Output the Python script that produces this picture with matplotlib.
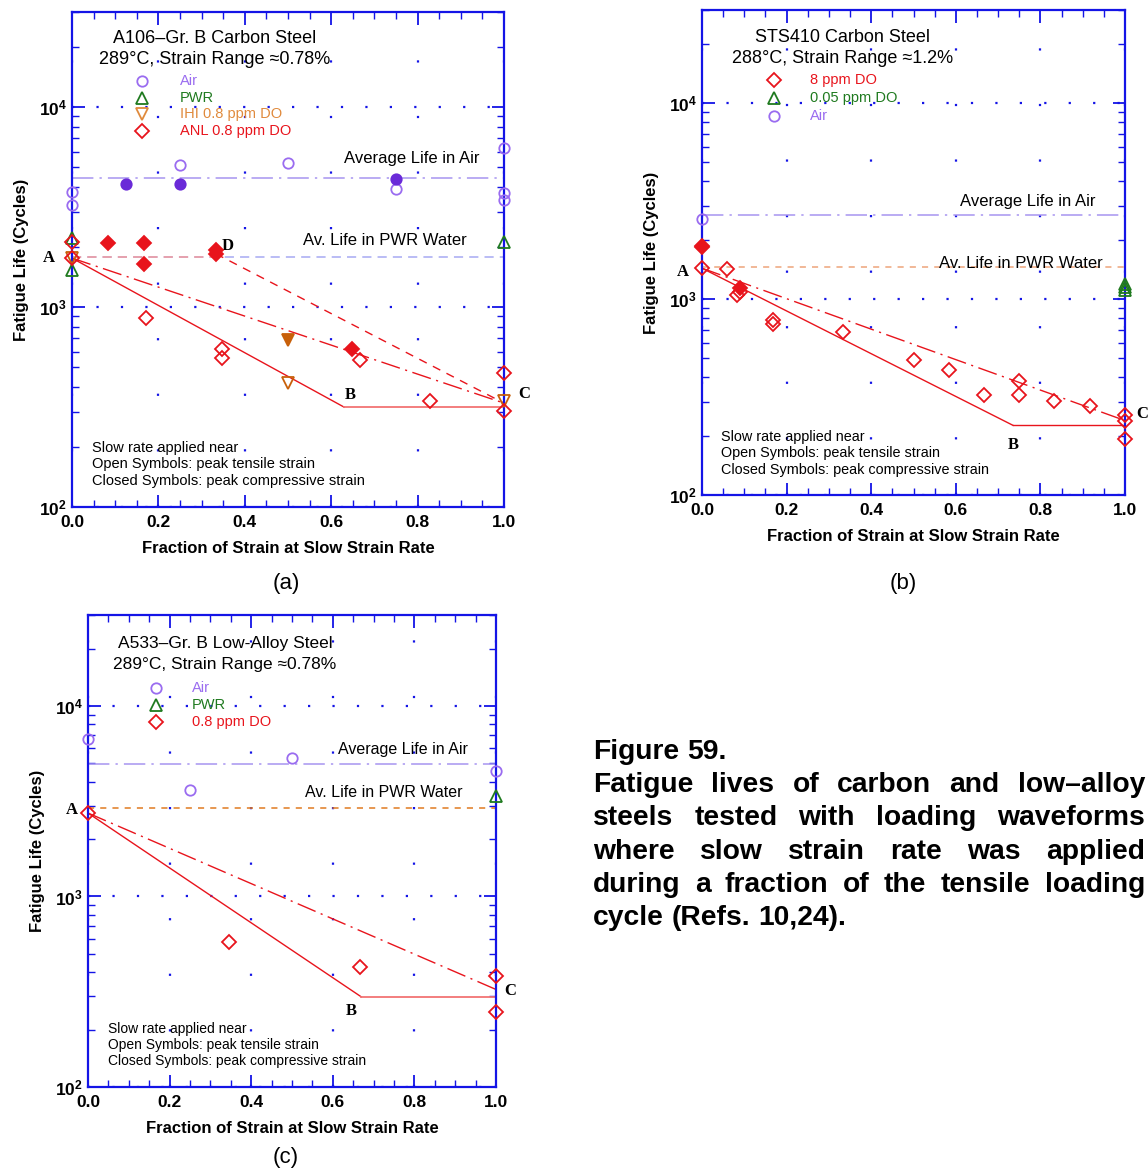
import numpy as np
import matplotlib
matplotlib.use("Agg")
import matplotlib.pyplot as plt
from matplotlib.ticker import MultipleLocator, LogLocator, FixedLocator, FixedFormatter, NullFormatter, FuncFormatter
import matplotlib.transforms as mtransforms

plt.rcParams['font.family'] = ['Liberation Sans', 'DejaVu Sans']
plt.rcParams['mathtext.fontset'] = 'custom'
plt.rcParams['mathtext.rm'] = 'Liberation Sans'
plt.rcParams['mathtext.bf'] = 'Liberation Sans:bold'

# ---- panel (a): A106-Gr. B carbon steel ----
a_air_open_x = [0, 0, 0.25, 0.5, 0.75, 1.0, 1.0, 1.0]
a_air_open_y = [3760, 3240, 5130, 5250, 3890, 6230, 3720, 3430]
a_air_closed_x = [0.125, 0.25, 0.75]
a_air_closed_y = [4120, 4120, 4370]
a_pwr_x = [0, 0, 1.0]
a_pwr_y = [2210, 1530, 2110]
a_ihi_open_x = [0, 0.5, 1.0]
a_ihi_open_y = [1760, 417, 339]
a_ihi_closed_x = [0.5]
a_ihi_closed_y = [684]
a_anl_open_x = [0, 0, 0.171, 0.347, 0.347, 0.667, 0.829, 1.0, 1.0]
a_anl_open_y = [2110, 1760, 881, 617, 556, 543, 339, 468, 302]
a_anl_closed_x = [0.083, 0.167, 0.167, 0.333, 0.333, 0.648]
a_anl_closed_y = [2090, 2090, 1640, 1930, 1850, 617]
a_avg_air, a_avg_pwr = 4420, 1790
a_A, a_C = 1760, 331
a_B = (0.63, 316)
a_D = (0.333, 1850)

# ---- panel (b): STS410 carbon steel ----
b_do_open_x = [0, 0, 0.06, 0.083, 0.09, 0.167, 0.167, 0.333, 0.5, 0.583,
               0.667, 0.75, 0.75, 0.833, 0.917, 1.0, 1.0, 1.0]
b_do_open_y = [1850, 1440, 1420, 1047, 1085, 781, 745, 680, 489, 434,
               324, 380, 324, 302, 285, 256, 239, 193]
b_do_closed_x = [0, 0.09]
b_do_closed_y = [1860, 1140]
b_pwr_x = [1.0, 1.0, 1.0]
b_pwr_y = [1200, 1160, 1120]
b_air_x = [0]
b_air_y = [2560]
b_avg_air, b_avg_pwr = 2685, 1456
b_A, b_C = 1440, 240
b_B = (0.735, 227)

# ---- panel (c): A533-Gr. B low-alloy steel ----
c_air_x = [0, 0.25, 0.5, 1.0]
c_air_y = [6710, 3620, 5330, 4560]
c_pwr_x = [1.0]
c_pwr_y = [3370]
c_do_x = [0, 0.345, 0.667, 1.0, 1.0]
c_do_y = [2740, 577, 427, 383, 248]
c_avg_air, c_avg_pwr = 4970, 2920
c_A, c_C = 2740, 325
c_B = (0.67, 297)

BLUE = '#1414e6'
AIR = '#9a6cf0'
AIR_DARK = '#6a2ad8'
AIR_LINE = '#a794f0'
PWR = '#1f7a1f'
IHI = '#c8600a'
IHI_TXT = '#e08a3c'
RED = '#e8141c'
RED_LIGHT = '#f27474'

W, H = 1148, 1172
fig = plt.figure(figsize=(W / 100, H / 100), dpi=100)

ax_a = fig.add_axes([72 / W, 1 - 507 / H, 432 / W, 495 / H])
ax_b = fig.add_axes([702 / W, 1 - 495 / H, 423 / W, 485 / H])
ax_c = fig.add_axes([88 / W, 1 - 1087 / H, 408 / W, 472 / H])


def style_axes(ax):
    ax.set_yscale('log')
    ax.set_xlim(0, 1)
    ax.set_ylim(100, 30000)
    ax.xaxis.set_major_locator(MultipleLocator(0.2))
    ax.xaxis.set_minor_locator(MultipleLocator(0.05))
    ax.xaxis.set_major_formatter(FuncFormatter(lambda v, p: '%.1f' % v))
    ax.yaxis.set_major_locator(FixedLocator([100, 1000, 10000]))
    ax.yaxis.set_major_formatter(FixedFormatter([r'$\mathbf{10^{2}}$', r'$\mathbf{10^{3}}$', r'$\mathbf{10^{4}}$']))
    ax.yaxis.set_minor_locator(LogLocator(base=10, subs=np.arange(2, 10)))
    ax.yaxis.set_minor_formatter(NullFormatter())
    ax.tick_params(which='both', direction='in', top=True, right=True, color=BLUE, labelsize=12.5)
    ax.tick_params(which='major', length=9, width=1.3)
    ax.tick_params(which='minor', length=5, width=1.0)
    ax.tick_params(axis='x', pad=6)
    for lbl in ax.get_xticklabels():
        lbl.set_fontweight('bold')
    for s in ax.spines.values():
        s.set_color(BLUE)
        s.set_linewidth(1.6)
    ax.xaxis.grid(True, which='major', color=BLUE, ls=(0, (1, 24)), lw=1.6)
    ax.yaxis.grid(True, which='major', color=BLUE, ls=(0, (1, 10)), lw=1.6)
    ax.set_axisbelow(True)
    ax.set_xlabel('Fraction of Strain at Slow Strain Rate', fontsize=12, fontweight='bold', labelpad=8)
    ax.set_ylabel('Fatigue Life (Cycles)', fontsize=12, fontweight='bold', labelpad=7)


def pts(ax, x, y, marker, color, filled=False, ms=7.5, mew=1.3):
    ax.plot(x, y, ls='none', marker=marker, ms=ms, mew=mew, mec=color,
            mfc=color if filled else 'none', clip_on=False, zorder=5)


def legend_row(ax, xm, xt, y, marker, color, label, ms=7.5):
    ax.plot([xm], [y], ls='none', marker=marker, ms=ms, mew=1.3, mec=color,
            mfc='none', transform=ax.transAxes, clip_on=False)
    ax.text(xt, y, label, color=color, fontsize=10.5, va='center', transform=ax.transAxes)


def letter(ax, x, y, s, trans):
    ax.text(x, y, s, fontsize=12, fontweight='bold', family='Liberation Serif',
            ha='center', va='center', transform=trans)


dashdot = (0, (14, 4, 1.5, 4))
notes = ['Slow rate applied near', 'Open Symbols: peak tensile strain',
         'Closed Symbols: peak compressive strain']
DM = 7.3  # diamond marker size

# ---------- (a) ----------
ax = ax_a
style_axes(ax)
ax.axhline(a_avg_air, color=AIR_LINE, lw=1.1, ls=dashdot)
ax.axhline(a_avg_pwr, color='#a7aaf2', lw=1.1, ls=(0, (6, 4)))
ax.plot([0, a_D[0]], [a_avg_pwr, a_avg_pwr], color='#f39a9a', lw=1.1, ls=(0, (6, 4)))
ax.plot([0, a_B[0]], [a_A, a_B[1]], color=RED, lw=1)
ax.plot([a_B[0], 1], [a_B[1], a_B[1]], color=RED_LIGHT, lw=1.3)
ax.plot([0, 1], [a_A, a_C], color=RED, lw=1, ls=dashdot)
ax.plot([a_D[0], 1], [a_D[1], a_C], color=RED, lw=1, ls=(0, (6, 5)))
pts(ax, a_air_open_x, a_air_open_y, 'o', AIR)
pts(ax, a_air_closed_x, a_air_closed_y, 'o', AIR_DARK, filled=True)
pts(ax, a_pwr_x, a_pwr_y, '^', PWR, ms=8)
pts(ax, a_ihi_open_x, a_ihi_open_y, 'v', IHI, ms=8.5)
pts(ax, a_ihi_closed_x, a_ihi_closed_y, 'v', IHI, filled=True, ms=8.5)
pts(ax, a_anl_open_x, a_anl_open_y, 'D', RED, ms=DM)
pts(ax, a_anl_closed_x, a_anl_closed_y, 'D', RED, filled=True, ms=DM)
ax.text(0.33, 0.947, 'A106\u2013Gr. B Carbon Steel', fontsize=13, ha='center', va='center', transform=ax.transAxes)
ax.text(0.33, 0.905, '289\u00b0C, Strain Range \u22480.78%', fontsize=13, ha='center', va='center', transform=ax.transAxes)
legend_row(ax, 0.162, 0.25, 0.861, 'o', AIR, 'Air')
legend_row(ax, 0.162, 0.25, 0.826, '^', PWR, 'PWR', ms=8)
legend_row(ax, 0.162, 0.25, 0.794, 'v', IHI_TXT, 'IHI 0.8 ppm DO', ms=8)
legend_row(ax, 0.162, 0.25, 0.760, 'D', RED, 'ANL 0.8 ppm DO', ms=DM)
ax.text(0.787, 0.705, 'Average Life in Air', fontsize=12, ha='center', va='center', transform=ax.transAxes)
ax.text(0.725, 0.539, 'Av. Life in PWR Water', fontsize=12, ha='center', va='center', transform=ax.transAxes)
for i, s in enumerate(notes):
    ax.text(0.046, 0.119 - 0.033 * i, s, fontsize=10.5, va='center', transform=ax.transAxes)
bt = mtransforms.blended_transform_factory(ax.transAxes, ax.transData)
letter(ax, -0.053, a_A, 'A', bt)
letter(ax, 0.644, 363, 'B', ax.transData)
letter(ax, 1.046, 367, 'C', bt)
letter(ax, 0.361, 2018, 'D', ax.transData)

# ---------- (b) ----------
ax = ax_b
style_axes(ax)
ax.axhline(b_avg_air, color=AIR_LINE, lw=1.1, ls=dashdot)
ax.axhline(b_avg_pwr, color='#eea47a', lw=1.1, ls=(0, (4, 4)))
ax.plot([0, b_B[0]], [b_A, b_B[1]], color=RED, lw=1)
ax.plot([b_B[0], 1], [b_B[1], b_B[1]], color=RED, lw=1)
ax.plot([0, 1], [b_A, b_C], color=RED, lw=1, ls=dashdot)
pts(ax, b_air_x, b_air_y, 'o', AIR)
pts(ax, b_pwr_x, b_pwr_y, '^', PWR, ms=8)
pts(ax, b_do_open_x, b_do_open_y, 'D', RED, ms=DM)
pts(ax, b_do_closed_x, b_do_closed_y, 'D', RED, filled=True, ms=DM)
ax.text(0.333, 0.944, 'STS410 Carbon Steel', fontsize=13, ha='center', va='center', transform=ax.transAxes)
ax.text(0.333, 0.901, '288\u00b0C, Strain Range \u22481.2%', fontsize=13, ha='center', va='center', transform=ax.transAxes)
legend_row(ax, 0.17, 0.255, 0.856, 'D', RED, '8 ppm DO', ms=DM)
legend_row(ax, 0.17, 0.255, 0.819, '^', PWR, '0.05 ppm DO', ms=8)
legend_row(ax, 0.17, 0.255, 0.781, 'o', AIR, 'Air')
ax.text(0.771, 0.606, 'Average Life in Air', fontsize=12, ha='center', va='center', transform=ax.transAxes)
ax.text(0.754, 0.478, 'Av. Life in PWR Water', fontsize=12, ha='center', va='center', transform=ax.transAxes)
for i, s in enumerate(notes):
    ax.text(0.045, 0.12 - 0.034 * i, s, fontsize=10.4, va='center', transform=ax.transAxes)
bt = mtransforms.blended_transform_factory(ax.transAxes, ax.transData)
letter(ax, -0.045, 1375, 'A', bt)
letter(ax, 0.735, 180, 'B', ax.transData)
letter(ax, 1.04, 259, 'C', bt)

# ---------- (c) ----------
ax = ax_c
style_axes(ax)
ax.axhline(c_avg_air, color=AIR_LINE, lw=1.1, ls=dashdot)
ax.axhline(c_avg_pwr, color='#e07b20', lw=1.1, ls=(0, (4, 4)))
ax.plot([0, c_B[0]], [c_A, c_B[1]], color=RED, lw=1)
ax.plot([c_B[0], 1], [c_B[1], c_B[1]], color=RED_LIGHT, lw=1.3)
ax.plot([0, 1], [c_A, c_C], color=RED, lw=1, ls=dashdot)
pts(ax, c_air_x, c_air_y, 'o', AIR)
pts(ax, c_pwr_x, c_pwr_y, '^', PWR, ms=8)
pts(ax, c_do_x, c_do_y, 'D', RED, ms=DM)
ax.text(0.336, 0.939, 'A533\u2013Gr. B Low-Alloy Steel', fontsize=12.5, ha='center', va='center', transform=ax.transAxes)
ax.text(0.336, 0.896, '289\u00b0C, Strain Range \u22480.78%', fontsize=12.5, ha='center', va='center', transform=ax.transAxes)
legend_row(ax, 0.167, 0.255, 0.845, 'o', AIR, 'Air')
legend_row(ax, 0.167, 0.255, 0.809, '^', PWR, 'PWR', ms=8)
legend_row(ax, 0.167, 0.255, 0.773, 'D', RED, '0.8 ppm DO', ms=DM)
ax.text(0.772, 0.716, 'Average Life in Air', fontsize=11.5, ha='center', va='center', transform=ax.transAxes)
ax.text(0.726, 0.623, 'Av. Life in PWR Water', fontsize=11.5, ha='center', va='center', transform=ax.transAxes)
for i, s in enumerate(notes):
    ax.text(0.049, 0.123 - 0.034 * i, s, fontsize=10, va='center', transform=ax.transAxes)
bt = mtransforms.blended_transform_factory(ax.transAxes, ax.transData)
letter(ax, -0.039, 2845, 'A', bt)
letter(ax, 0.645, 250, 'B', ax.transData)
letter(ax, 1.034, 319, 'C', bt)

# panel labels
fig.text(286 / W, 1 - 583 / H, '(a)', fontsize=16, ha='center', va='center')
fig.text(903 / W, 1 - 583 / H, '(b)', fontsize=16, ha='center', va='center')
fig.text(286 / W, 1 - 1158 / H, '(c)', fontsize=16, ha='center', va='center')

# caption, justified by hand (kept inside the canvas)
cap_left, cap_right = 593, 1145
cap_lines = ['Figure 59.',
             'Fatigue lives of carbon and low\u2013alloy',
             'steels tested with loading waveforms',
             'where slow strain rate was applied',
             'during a fraction of the tensile loading',
             'cycle (Refs. 10,24).']
cap_y = [752, 785, 818, 852, 885, 918]
cap_fs = 20.3
renderer = fig.canvas.get_renderer()
space_w = fig.text(0, 0, 'a a', fontsize=cap_fs, fontweight='bold').get_window_extent(renderer).width
space_w -= 2 * fig.text(0, 0, 'a', fontsize=cap_fs, fontweight='bold').get_window_extent(renderer).width
for t in fig.texts[-2:]:
    t.remove()
for i, (line, yy) in enumerate(zip(cap_lines, cap_y)):
    words = line.split()
    texts = [fig.text(0, 1 - yy / H, w, fontsize=cap_fs, fontweight='bold', va='center') for w in words]
    widths = [t.get_window_extent(renderer).width for t in texts]
    if 0 < i < len(cap_lines) - 1:
        gap = (cap_right - cap_left - sum(widths)) / (len(words) - 1)
    else:
        gap = space_w
    x = cap_left
    for t, wd in zip(texts, widths):
        t.set_x(x / W)
        x += wd + gap

fig.savefig('out.png', dpi=100)
